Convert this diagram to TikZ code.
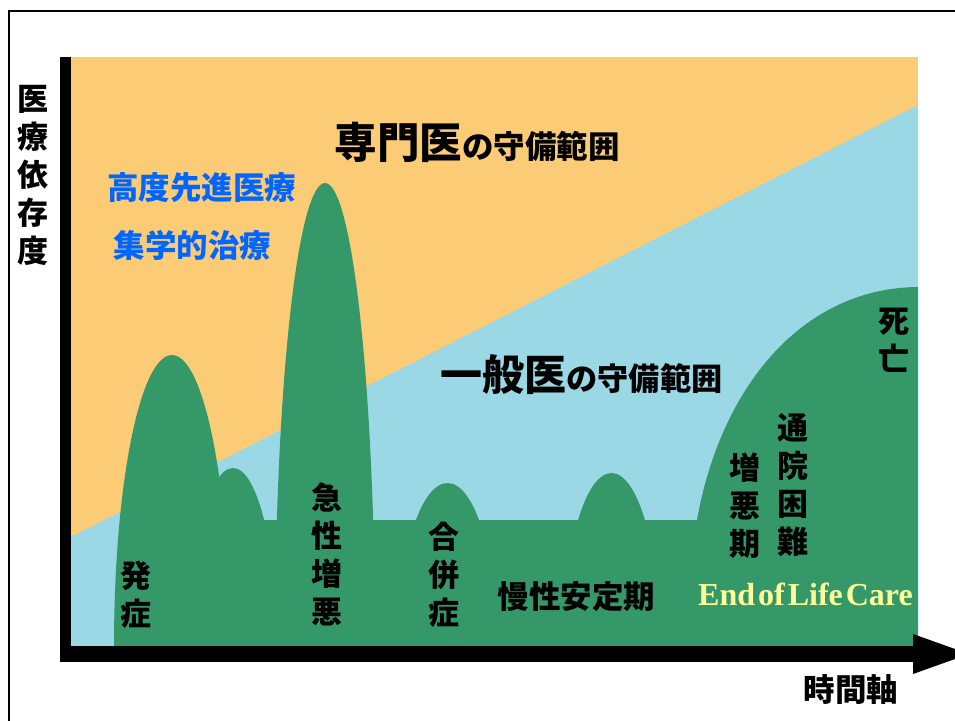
\documentclass[tikz,border=0pt]{standalone}
\usepackage{fontspec}
\setmainfont{Liberation Serif}
\newfontfamily\jp{Noto Sans CJK JP}
\definecolor{orangebg}{HTML}{FCCB76}
\definecolor{bluebg}{HTML}{9AD8E6}
\definecolor{greenbg}{HTML}{359868}
\definecolor{bluetext}{HTML}{0066FF}
\definecolor{yellowtext}{HTML}{FFFF99}
\tikzset{
  vlabel/.style={align=center, inner sep=0pt, text=black, font=\jp\bfseries\fontsize{31}{38}\selectfont},
  hlabel/.style={inner sep=0pt, text=black, font=\jp\bfseries\fontsize{31.5}{38}\selectfont},
  bluelabel/.style={inner sep=0pt, text=bluetext, font=\jp\bfseries\fontsize{31.5}{38}\selectfont},
  hill/.style={fill=greenbg},
  axisbar/.style={fill=black}
}
\begin{document}
\begin{tikzpicture}[x=1pt,y=-1pt]
\useasboundingbox (0,0) rectangle (955,720);
\clip (0,0) rectangle (955,720);
% frame
\draw[line width=2pt] (8.5,730) -- (8.5,10.5) -- (970,10.5);
% background regions
\fill[orangebg] (71,57) rectangle (918,646);
\fill[bluebg] (71,537) -- (918,105) -- (918,646) -- (71,646) -- cycle;
% green hills
\begin{scope}
\clip (71,57) rectangle (918,646);
\fill[hill] (150,520) rectangle (918,646);
\fill[hill] (233,646) ellipse [x radius=44pt, y radius=178pt];
\fill[hill] (172,646) ellipse [x radius=58pt, y radius=291pt];
\fill[hill] (325,646) ellipse [x radius=50pt, y radius=463pt];
\fill[hill] (447.5,646) ellipse [x radius=49.7pt, y radius=163pt];
\fill[hill] (611.5,646) ellipse [x radius=48.8pt, y radius=173pt];
\fill[hill] (697,520) .. controls (720,390) and (800,288) .. (918,287) -- (918,646) -- (697,646) -- cycle;
\end{scope}
% axes
\coordinate (ytop) at (60,57);
\coordinate (origin) at (71,662);
\coordinate (tip) at (969,654);
\fill[axisbar] (ytop) rectangle (origin);
\fill[axisbar] (60,646) rectangle (913,662);
\fill[axisbar] (913,634) -- (tip) -- (913,674) -- cycle;
% labels
\node[vlabel] (ylabel) at (33,175.5) {医\\療\\依\\存\\度};
\node[anchor=base, inner sep=0pt] (senmon) at (477,158)
  {\jp\bfseries{\fontsize{42.5}{48}\selectfont 専門医}{\fontsize{31.5}{38}\selectfont の守備範囲}};
\node[anchor=base, inner sep=0pt] (ippan) at (581.5,390)
  {\jp\bfseries{\fontsize{42}{48}\selectfont 一般医}{\fontsize{31.2}{38}\selectfont の守備範囲}};
\node[bluelabel] (kodo) at (201.5,187.5) {高度先進医療};
\node[bluelabel] (shugaku) at (192.5,245.5) {集学的治療};
\node[vlabel] (hassho) at (135.5,594.5) {発\\症};
\node[vlabel] (kyusei) at (327,554) {急\\性\\増\\悪};
\node[vlabel] (gappei) at (444,575) {合\\併\\症};
\node[hlabel] (mansei) at (576.5,597) {慢性安定期};
\node[vlabel] (zoaku) at (745,506) {増\\悪\\期};
\node[vlabel] (tsuin) at (793,485.5) {通\\院\\困\\難};
\node[vlabel] (shibo) at (894,340.5) {死\\亡};
\node[anchor=base, inner sep=0pt, text=yellowtext, font=\bfseries\fontsize{32}{36}\selectfont] (eolc) at (805.5,605) {End\hspace{3pt}of\hspace{3pt}Life\hspace{3pt}Care};
\node[hlabel] (jikan) at (851,689.5) {時間軸};
\end{tikzpicture}
\end{document}
